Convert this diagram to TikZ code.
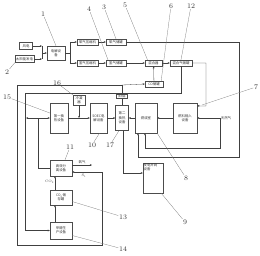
\documentclass[tikz,border=0pt]{standalone}
\usepackage{fontspec}
\newfontfamily\cjk{Noto Sans CJK SC}
\usetikzlibrary{arrows.meta}
\tikzset{
  box/.style={draw=black!70, line width=0.3pt, inner sep=0.3pt, align=center,
    text=black!80, font=\cjk\fontsize{3.4}{4.4}\selectfont},
  tag/.style={inner sep=0.5pt, text=black!80, font=\fontsize{7}{8}\selectfont},
  lead/.style={line width=0.25pt, black!55},
  flow/.style={line width=0.3pt, black!75, ->}
}
\begin{document}
\begin{tikzpicture}[x=1pt,y=-1pt,>={Stealth[length=2.2pt,width=1.8pt]}]
\useasboundingbox (0,0) rectangle (260,255);
% power sources and electrolysis
\node[box, minimum width=13, minimum height=7] (wind) at (26,46) {风电};
\node[box, minimum width=19, minimum height=7] (solar) at (24.5,59) {太阳能发电};
\node[box, minimum width=18, minimum height=14] (elec) at (56,53) {电解设\\备};
\coordinate (busa) at (42,46);
\coordinate (busb) at (42,59);
\coordinate (bus) at (42,53);
\draw[flow] (wind.east) -- (busa);
\draw[flow] (solar.east) -- (busb);
\draw[line width=0.3pt, black!75] (busa) -- (busb);
\draw[flow] (bus) -- (elec.west);

% gas rows
\node[box, minimum width=21, minimum height=6] (ocomp) at (87.5,42) {氧气压缩机};
\node[box, minimum width=20, minimum height=6] (otank) at (116,42) {氧气储罐};
\node[box, minimum width=21, minimum height=6] (hcomp) at (87.5,63) {氢气压缩机};
\node[box, minimum width=20, minimum height=6] (htank) at (116,63) {氢气储罐};
\node[box, minimum width=17, minimum height=6] (mixer) at (153.5,63) {混合器};
\node[box, minimum width=22, minimum height=6] (mtank) at (181,63) {混合气储罐};
\node[box, minimum width=18, minimum height=6] (cotank) at (154,84) {CO储罐};
\coordinate (split) at (70,53);
\draw[line width=0.3pt, black!75] (elec.east) -- (split);
\draw[flow] (split) |- (ocomp.west);
\draw[flow] (split) |- (hcomp.west);
\draw[flow] (ocomp) -- (otank);
\draw[flow] (hcomp) -- (htank);
\draw[flow] (htank) -- (mixer);
\draw[flow] (mixer) -- (mtank);
\draw[flow] (cotank) -- (mixer);

% middle row
\node[box, minimum width=12, minimum height=10] (cond) at (79,100) {冷凝\\器};
\node[box, minimum width=18, minimum height=30] (hexa) at (59,118) {第一换\\热设备};
\node[box, minimum width=17, minimum height=30] (soec) at (98.5,118) {SOEC电\\解设备};
\node[box, minimum width=11, minimum height=4, font=\cjk\fontsize{2.4}{3}\selectfont] (valve) at (122,96.5) {换热器};
\node[box, minimum width=13, minimum height=25] (hexb) at (122,118) {第二\\换热\\设备};
\node[box, minimum width=22, minimum height=30] (burner) at (146,118) {燃烧室};
\node[box, minimum width=24, minimum height=30] (fuel) at (185,118) {燃料输入\\设备};
\node[inner sep=0.5pt, text=black!80, font=\cjk\fontsize{3.4}{4}\selectfont] (gas) at (226,118) {天然气};
\draw[flow] (hexa) -- (soec);
\draw[flow] (cond.south) -- (cond.south |- hexa.east);
\draw[flow] (soec) -- (hexb);
\draw[flow] (burner) -- (hexb);
\draw[flow] (fuel) -- (burner);
\draw[flow] (gas) -- (fuel);
\coordinate (gasin) at (145,148);
\draw[flow] (gas.west) |- (gasin) -- (gasin |- burner.south);
\coordinate (oxin) at (138,157);
\draw[flow] (otank.east) -| (239,157) -- (oxin) -- (oxin |- burner.south);
\draw[flow] (mtank.east) -| (206,106) -- ([yshift=-3pt]fuel.north east);

% lower part
\node[box, minimum width=20, minimum height=30] (grid) at (153,178) {};
\node[inner sep=0.6pt, anchor=north west, align=left, text=black!80, font=\cjk\fontsize{3.4}{4.4}\selectfont] (gridtext) at (grid.north west) {发电并网\\设备};
\node[box, minimum width=22, minimum height=16] (sep) at (61,168) {高效分\\离设备};
\node[box, minimum width=22, minimum height=15] (co2tank) at (61,197.5) {CO\textsubscript{2}储\\存罐};
\node[box, minimum width=22, minimum height=17] (meoh) at (61,230.5) {甲醇生\\产设备};
\draw[flow] ([xshift=1pt]hexb.south) |- ([yshift=5pt]grid.west);
\draw[flow] ([xshift=-6pt]co2tank.north) -- ([xshift=-6pt]sep.south);
\draw[flow] ([xshift=-6pt]meoh.north) -- ([xshift=-6pt]co2tank.south);
\node[inner sep=0.3pt, anchor=east, text=black!80, font=\fontsize{3.4}{4}\selectfont] (co2) at (54.5,182) {CO\textsubscript{2}};
\coordinate (vent) at (92,165);
\draw[flow] ([yshift=3pt]sep.east) -- (vent);
\node[inner sep=0.3pt, text=black!80, font=\cjk\fontsize{3.4}{4}\selectfont] (venttext) at (82,162) {氧气};
\node[inner sep=0.3pt, text=black!80, font=\fontsize{3.6}{4}\selectfont] (sone) at (84,176) {S\textsubscript{1}};
\draw[flow] (sep.west) -| (38,118) -- (hexa.west);
\draw[flow] (38,118) -- (26,118);

% loops
\coordinate (top) at (122,85);
\draw[line width=0.3pt, black!75] (hexb.north) -- (valve.south);
\draw[line width=0.3pt, black!75] (valve.north) -- (top);
\draw[flow] (top) -- (cotank.west);
\draw[flow] (top) -- (17,85) -- (17,245) -| (102,172) -- ([yshift=-4pt]sep.east);
\draw[flow] (mtank.south) |- (25,93) |- (meoh.west);

% reference numbers
\node[tag] (n1) at (43,14) {1};
\node[tag] (n4) at (89,9) {4};
\node[tag] (n3) at (104,7) {3};
\node[tag] (n5) at (125,5) {5};
\node[tag] (n6) at (171,6) {6};
\node[tag] (n12) at (191,6) {12};
\node[tag] (n2) at (7,72) {2};
\node[tag] (n16) at (57,83) {16};
\node[tag] (n15) at (7,97) {15};
\node[tag] (n7) at (256,87) {7};
\node[tag] (n10) at (92,145) {10};
\node[tag] (n17) at (110,145) {17};
\node[tag] (n11) at (70,147) {11};
\node[tag] (n8) at (186,178) {8};
\node[tag] (n13) at (123,217) {13};
\node[tag] (n9) at (185,222) {9};
\node[tag] (n14) at (123,249) {14};
\draw[lead] (n1) -- (elec.north);
\draw[lead] (n4) -- ([xshift=-8pt]htank.north);
\draw[lead] (n3) -- (otank.north);
\draw[lead] (n5) -- ([xshift=-6pt]mixer.north);
\draw[lead] (n6) -- ([xshift=-2pt]cotank.north east);
\draw[lead] (n12) -- (mtank.north);
\draw[lead] (n2) -- (solar.south west);
\draw[lead] (n16) -- (cond.north west);
\draw[lead] (n15) -- ([yshift=5pt]hexa.west);
\draw[lead] (n7) -- (202,105);
\draw[lead] (n10) -- ([xshift=1pt]soec.south);
\draw[lead] (n17) -- ([xshift=-3pt]hexb.south);
\draw[lead] (n11) -- ([xshift=4pt]sep.north);
\draw[lead] (n8) -- (burner.south east);
\draw[lead] (n13) -- ([yshift=-4pt]co2tank.east);
\draw[lead] (n9) -- ([xshift=-2pt]grid.south east);
\draw[lead] (n14) -- ([yshift=-5pt]meoh.east);
\end{tikzpicture}
\end{document}
